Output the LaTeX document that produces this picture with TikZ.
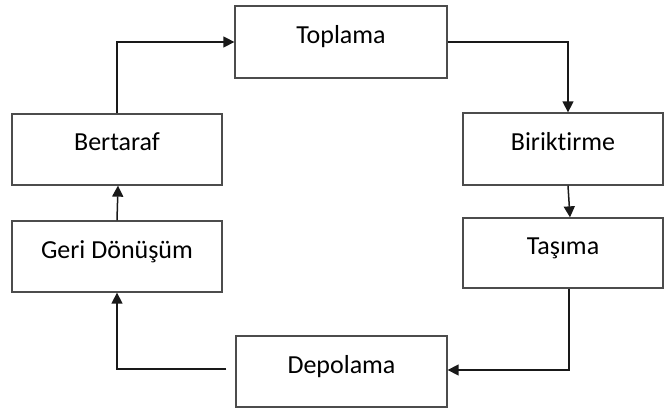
\documentclass[tikz,border=0pt]{standalone}
\usepackage{fontspec}
\setmainfont{Carlito}[Ligatures=NoCommon]
\usetikzlibrary{arrows.meta}
\newcommand\boxtxt[1]{\raisebox{-1.5pt}[0pt][0pt]{#1}}
\begin{document}
\begin{tikzpicture}[x=1pt,y=-1pt,
  box/.style={draw=black!70,line width=1.3pt,rectangle,inner sep=0pt,
    font=\fontsize{26}{30}\selectfont,text=black},
  conn/.style={draw=black!90,line width=1.5pt,-{Triangle[length=11pt,width=11pt]}}]
\useasboundingbox (0,0) rectangle (665,412);
\node[box,minimum width=212pt,minimum height=72pt] (top) at (341,42) {\boxtxt{Toplama}};
\node[box,minimum width=200pt,minimum height=72pt] (bir) at (563,149) {\boxtxt{Biriktirme}};
\node[box,minimum width=200pt,minimum height=70pt] (tas) at (563,253) {\boxtxt{Taşıma}};
\node[box,minimum width=210pt,minimum height=71pt] (ber) at (117,149.5) {\boxtxt{Bertaraf}};
\node[box,minimum width=210pt,minimum height=71pt] (ger) at (117,256.5) {\boxtxt{Geri Dönüşüm}};
\node[box,minimum width=211pt,minimum height=71pt] (dep) at (341.5,371.5) {\boxtxt{Depolama}};
\draw[conn] (ber.north) |- (top.west);
\draw[conn] (top.east) -| ([xshift=5pt]bir.north);
\draw[conn] ([xshift=5pt]bir.south) -- ([xshift=7pt]tas.north);
\draw[conn] ([xshift=6pt]tas.south) |- ([yshift=1.5pt]dep.east);
\coordinate (dl) at ([xshift=-9pt,yshift=2.5pt]dep.west);
\draw[conn] (dl) -| (ger.south);
\draw[conn] (ger.north) -- ([xshift=1pt]ber.south);
\end{tikzpicture}
\end{document}
